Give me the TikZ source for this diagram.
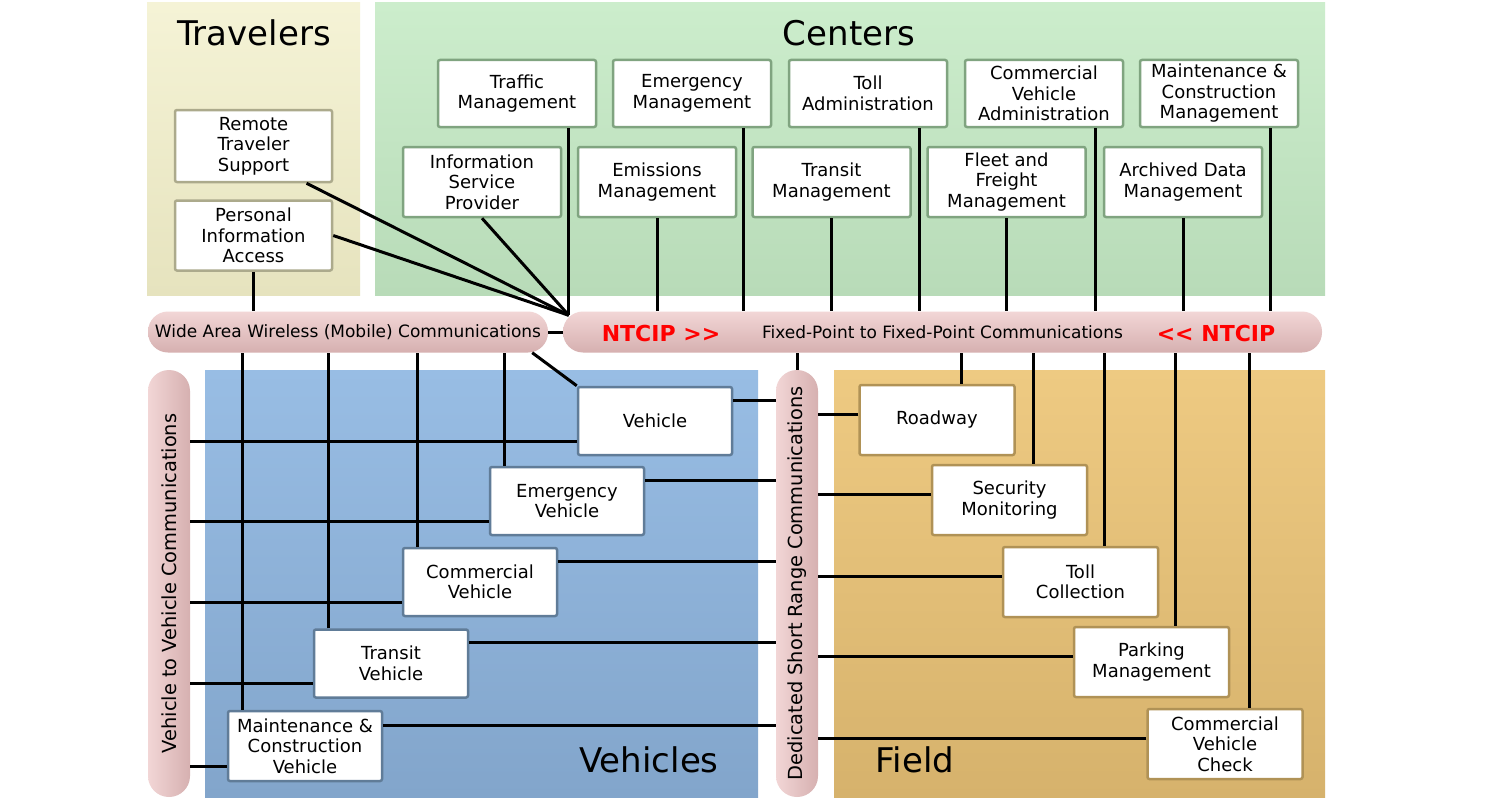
\documentclass[tikz,border=0pt]{standalone}
\usepackage{fontspec}
\setmainfont{DejaVu Sans}
\usetikzlibrary{calc}
\definecolor{travA}{RGB}{245,243,214}
\definecolor{travB}{RGB}{230,227,190}
\definecolor{centA}{RGB}{204,237,204}
\definecolor{centB}{RGB}{184,219,184}
\definecolor{vehA}{RGB}{152,189,228}
\definecolor{vehB}{RGB}{130,165,203}
\definecolor{fldA}{RGB}{238,202,130}
\definecolor{fldB}{RGB}{214,178,108}
\definecolor{barA}{RGB}{242,214,214}
\definecolor{barB}{RGB}{214,176,176}
\definecolor{cbd}{RGB}{128,164,128}
\definecolor{vbd}{RGB}{96,124,152}
\definecolor{fbd}{RGB}{176,146,86}
\definecolor{tbd}{RGB}{172,170,140}
\definecolor{ntred}{RGB}{255,0,0}
\newcommand\bxf{\fontsize{18}{20.5}\selectfont}
\newcommand\brf{\fontsize{17}{20}\selectfont}
\newcommand\vrf{\fontsize{19.4}{22}\selectfont}
\newcommand\ttlf{\fontsize{34}{40}\selectfont}
\newcommand\ntf{\fontsize{22}{26}\selectfont\bfseries}
\begin{document}
\begin{tikzpicture}[x=1pt,y=-1pt,
  conn/.style={line width=3pt,black},
  gbox/.style={draw, fill=white, line width=2.5pt, rounded corners=2pt, align=center, inner sep=0pt, font=\bxf, minimum width=158pt},
  cbox/.style={gbox, draw=cbd},
  tbox/.style={gbox, draw=tbd, minimum width=157pt},
  vbox/.style={gbox, draw=vbd, minimum width=154pt, minimum height=68pt},
  fbox/.style={gbox, draw=fbd, minimum width=155pt, minimum height=70pt},
  hbar/.style={rounded corners=20pt, top color=barA, bottom color=barB, minimum height=41pt, inner sep=0pt, font=\brf},
  vbar/.style={rounded corners=21pt, left color=barA, right color=barB, minimum width=42pt, minimum height=427pt, inner sep=0pt, font=\vrf},
  ttl/.style={font=\ttlf, inner sep=0pt},
  ntcip/.style={font=\ntf, text=ntred, inner sep=0pt}
]
\useasboundingbox (0,0) rectangle (1500,800);
\fill[white] (0,0) rectangle (1500,800);

% regions
\shade[top color=travA, bottom color=travB] (147,3) rectangle (360,295);
\shade[top color=centA, bottom color=centB] (375,3) rectangle (1325,295);
\shade[top color=vehA, bottom color=vehB] (205,370) rectangle (758,797);
\shade[top color=fldA, bottom color=fldB] (834,370) rectangle (1325,797);

% titles
\node[ttl] (ttrav) at (254,33) {Travelers};
\node[ttl] (tcent) at (849,33) {Centers};
\node[ttl] (tveh) at (649,760) {Vehicles};
\node[ttl] (tfld) at (915,760) {Field};

% travelers
\node[tbox, minimum height=72pt] (rts) at (253.5,146) {Remote\\Traveler\\Support};
\node[tbox, minimum height=70pt] (pia) at (253.5,235.5) {Personal\\Information\\Access};

% centers
\node[cbox, minimum height=67pt] (tm) at (517,93.5) {Traffic\\Management};
\node[cbox, minimum height=67pt] (emg) at (692,93.5) {Emergency\\Management};
\node[cbox, minimum height=67pt] (tolla) at (868,93.5) {Toll\\Administration};
\node[cbox, minimum height=67pt] (cva) at (1044,93.5) {Commercial\\Vehicle\\Administration};
\node[cbox, minimum height=67pt] (mcm) at (1219,93.5) {Maintenance \&\\Construction\\Management};
\node[cbox, minimum height=70pt] (isp) at (482,182) {Information\\Service\\Provider};
\node[cbox, minimum height=70pt] (emm) at (657,182) {Emissions\\Management};
\node[cbox, minimum height=70pt] (trm) at (831.5,182) {Transit\\Management};
\node[cbox, minimum height=70pt] (ffm) at (1006.5,182) {Fleet and\\Freight\\Management};
\node[cbox, minimum height=70pt] (adm) at (1183,182) {Archived Data\\Management};

% bars
\node[hbar, minimum width=400pt] (waw) at (348,332) {Wide Area Wireless (Mobile) Communications};
\node[hbar, minimum width=759pt] (fp) at (942.5,332) {Fixed-Point to Fixed-Point Communications};
\node[ntcip] (nt1) at (661,333) {NTCIP >{}>};
\node[ntcip] (nt2) at (1216,333) {<{}< NTCIP};
\node[vbar] (v2v) at (169,583.5) {\rotatebox{90}{Vehicle to Vehicle Communications}};
\node[vbar] (dsrc) at (797,583.5) {\rotatebox{90}{Dedicated Short Range Communications}};

% vehicles
\node[vbox] (veh) at (655,421) {Vehicle};
\node[vbox] (ev) at (567,501) {Emergency\\Vehicle};
\node[vbox] (cv) at (480,582) {Commercial\\Vehicle};
\node[vbox] (tv) at (391,663.5) {Transit\\Vehicle};
\node[vbox, minimum height=70pt] (mcv) at (305,746) {Maintenance \&\\Construction\\Vehicle};

% field
\node[fbox] (rd) at (937,420) {Roadway};
\node[fbox] (sm) at (1009.5,500) {Security\\Monitoring};
\node[fbox] (tc) at (1080.5,582) {Toll\\Collection};
\node[fbox] (pm) at (1151.5,662) {Parking\\Management};
\node[fbox] (cvc) at (1225,744) {Commercial\\Vehicle\\Check};

% connectors: centers to fixed-point bar
\coordinate (conv) at ($(fp.north west)+(6,4)$);
\coordinate (ctm) at ($(tm.south)+(51,0)$);
\draw[conn] (ctm) -- (ctm |- conv);
\foreach \n in {emg,tolla,cva,mcm}{
  \coordinate (c\n) at ($(\n.south)+(51,0)$);
  \draw[conn] (c\n) -- (c\n |- fp.north);
}
\foreach \n in {emm,trm,ffm,adm}{
  \draw[conn] (\n.south) -- (\n.south |- fp.north);
}
\draw[conn] (isp.south) -- (conv);
\draw[conn] ($(rts.south)+(53,0)$) -- (conv);
\draw[conn] (pia.east) -- (conv);
\draw[conn] (pia.south) -- (pia.south |- waw.north);
\draw[conn] (waw.east) -- (fp.west);

% wide area wireless to vehicles
\foreach \n in {ev,cv,tv,mcv}{
  \coordinate (w\n) at ($(\n.north)+(-63,0)$);
  \draw[conn] (w\n) -- (w\n |- waw.south);
}
\draw[conn] ($(waw.south east)+(-16,0)$) -- (veh.north west);

% vehicle to vehicle and DSRC
\foreach \n in {veh,ev,cv,tv,mcv}{
  \coordinate (v\n) at ($(\n.west)+(0,20)$);
  \draw[conn] (v\n) -- (v\n -| v2v.east);
  \coordinate (d\n) at ($(\n.east)+(0,-21)$);
  \draw[conn] (d\n) -- (d\n -| dsrc.west);
}
\foreach \n in {rd,sm,tc,pm,cvc}{
  \coordinate (e\n) at ($(\n.west)+(0,-6)$);
  \draw[conn] (e\n) -- (e\n -| dsrc.east);
  \coordinate (f\n) at ($(\n.north)+(24,0)$);
  \draw[conn] (f\n) -- (f\n |- fp.south);
}
\draw[conn] (dsrc.north) -- (dsrc.north |- fp.south);
\end{tikzpicture}
\end{document}
